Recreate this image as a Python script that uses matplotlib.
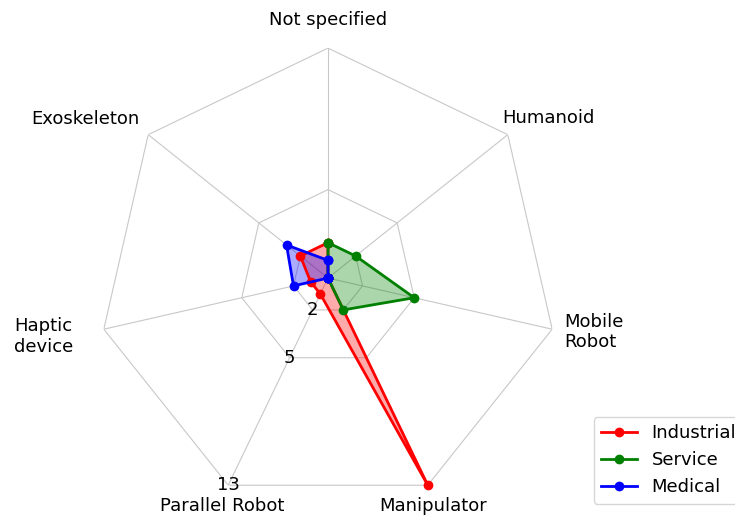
import numpy as np
import matplotlib.pyplot as plt

categories = ['Not specified', 'Humanoid', 'Mobile\nRobot', 'Manipulator',
              'Parallel Robot', 'Haptic\ndevice', 'Exoskeleton']
industrial = [2, 0, 0, 13, 1, 1, 2]
service = [2, 2, 5, 2, 0, 0, 0]
medical = [1, 0, 0, 0, 0, 2, 3]
rings = [2, 5, 13]

n = len(categories)
angles = np.linspace(0, 2 * np.pi, n, endpoint=False)
closed = np.concatenate([angles, angles[:1]])

fig = plt.figure(figsize=(7.35, 5.15), dpi=100)
ax = fig.add_axes([0.1333, 0.0136, 0.6259, 0.893], projection='polar')
ax.set_theta_offset(np.pi / 2)
ax.set_theta_direction(-1)

# polygon grid instead of circles
ax.spines['polar'].set_visible(False)
ax.yaxis.grid(False)
ax.xaxis.grid(True, color='#c8c8c8', linewidth=0.8)
for r in rings:
    ax.plot(closed, [r] * (n + 1), color='#c8c8c8', linewidth=0.8, zorder=1)

for vals, col, name in [(industrial, 'red', 'Industrial'),
                        (service, 'green', 'Service'),
                        (medical, 'blue', 'Medical')]:
    v = list(vals) + [vals[0]]
    ax.plot(closed, v, 'o-', color=col, linewidth=2, markersize=6, label=name,
            zorder=3, clip_on=False)
    ax.fill(closed, v, color=col, alpha=0.33, zorder=2)

ax.set_ylim(0, 13)
ax.set_yticks(rings)
ax.set_yticklabels([])
for r in rings:
    ax.text(angles[4], r, str(r), fontsize=13, ha='center', va='center', zorder=4)

ax.set_xticks(angles)
ax.set_xticklabels([])
# label placement: (angle shift in deg, radius, ha, va) per category
lab_pos = [(0, 14.1, 'center', 'bottom'), (-2.4, 13.04, 'left', 'bottom'),
           (0, 13.7, 'left', 'center'), (0, 13.74, 'center', 'top'),
           (0, 13.74, 'center', 'top'), (0, 14.8, 'right', 'center'),
           (0, 13.6, 'right', 'bottom')]
for a, lab, (da, r, ha, va) in zip(angles, categories, lab_pos):
    ax.text(a + np.radians(da), r, lab, fontsize=13, ha=ha, va=va)

ax.legend(loc='upper left', bbox_to_anchor=(0.808, 0.190), bbox_transform=fig.transFigure,
          borderaxespad=0, fontsize=13)

fig.savefig('out.png', dpi=100)
